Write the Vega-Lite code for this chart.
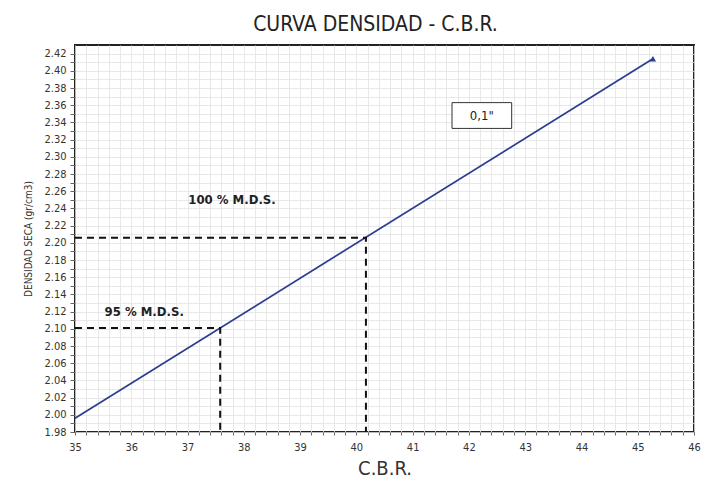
{
  "$schema": "https://vega.github.io/schema/vega-lite/v6.json",
  "autosize": "none",
  "width": 619,
  "height": 387,
  "padding": {"left": 75, "top": 45, "right": 13, "bottom": 55},
  "background": "white",
  "title": {"text": "CURVA DENSIDAD - C.B.R.", "fontSize": 21, "font": "Liberation Sans Narrow, DejaVu Sans Condensed, sans-serif", "fontWeight": "normal", "color": "#222", "offset": 10, "dx": -9},
  "config": {
    "view": {"stroke": "#222", "strokeWidth": 2},
    "font": "Liberation Sans Narrow, DejaVu Sans Condensed, sans-serif",
    "axis": {"gridColor": "#e2e2e2", "gridWidth": 0.8, "domain": false, "tickColor": "#666", "labelColor": "#333", "titleColor": "#333", "labelFontSize": 11, "labelFont": "Liberation Sans Narrow, DejaVu Sans Condensed, sans-serif", "titleFont": "Liberation Sans Narrow, DejaVu Sans Condensed, sans-serif", "titleFontWeight": "normal"}
  },
  "datasets": {
    "curve": [{"cbr": 35.0, "dens": 1.996}, {"cbr": 45.27, "dens": 2.414}],
    "endpt": [{"cbr": 45.27, "dens": 2.414}],
    "dashes": [
      {"g": "h100", "cbr": 35.0, "dens": 2.206},
      {"g": "h100", "cbr": 40.17, "dens": 2.206},
      {"g": "h100", "cbr": 40.17, "dens": 1.98},
      {"g": "h95", "cbr": 35.0, "dens": 2.101},
      {"g": "h95", "cbr": 37.58, "dens": 2.101},
      {"g": "h95", "cbr": 37.58, "dens": 1.98}
    ],
    "labels": [
      {"cbr": 37.79, "dens": 2.25, "txt": "100 % M.D.S."},
      {"cbr": 36.23, "dens": 2.12, "txt": "95 % M.D.S."}
    ],
    "box": [{"cbr": 41.7, "cbr2": 42.76, "dens": 2.333, "dens2": 2.363}],
    "boxtxt": [{"cbr": 42.23, "dens": 2.348, "txt": "0,1\""}]
  },
  "encoding": {
    "x": {"field": "cbr", "type": "quantitative", "scale": {"domain": [35, 46], "nice": false, "zero": false},
      "axis": {"title": "C.B.R.", "titleFontSize": 20, "titlePadding": 6,
        "values": [35,35.2,35.4,35.6,35.8,36,36.2,36.4,36.6,36.8,37,37.2,37.4,37.6,37.8,38,38.2,38.4,38.6,38.8,39,39.2,39.4,39.6,39.8,40,40.2,40.4,40.6,40.8,41,41.2,41.4,41.6,41.8,42,42.2,42.4,42.6,42.8,43,43.2,43.4,43.6,43.8,44,44.2,44.4,44.6,44.8,45,45.2,45.4,45.6,45.8,46],
        "labelExpr": "abs(datum.value - round(datum.value)) < 0.001 ? format(datum.value, 'd') : ''",
        "tickSize": 3, "labelPadding": 6, "labelFlush": false, "labelOverlap": false}},
    "y": {"field": "dens", "type": "quantitative", "scale": {"domain": [1.98, 2.43], "nice": false, "zero": false},
      "axis": {"title": "DENSIDAD SECA (gr/cm3)", "titleFontSize": 10, "titlePadding": 10,
        "values": [1.98,1.99,2.0,2.01,2.02,2.03,2.04,2.05,2.06,2.07,2.08,2.09,2.1,2.11,2.12,2.13,2.14,2.15,2.16,2.17,2.18,2.19,2.2,2.21,2.22,2.23,2.24,2.25,2.26,2.27,2.28,2.29,2.3,2.31,2.32,2.33,2.34,2.35,2.36,2.37,2.38,2.39,2.4,2.41,2.42],
        "labelExpr": "round(datum.value * 100) % 2 == 0 ? format(datum.value, '.2f') : ''",
        "tickSize": 5, "labelPadding": 4, "labelOverlap": false, "labelFlush": false}}
  },
  "layer": [
    {
      "data": {"name": "curve"},
      "mark": {"type": "line", "color": "#2b3d8f", "strokeWidth": 1.7}
    },
    {
      "data": {"name": "endpt"},
      "mark": {"type": "point", "shape": "triangle-up", "filled": true, "color": "#2b3d8f", "size": 40, "opacity": 1}
    },
    {
      "data": {"name": "dashes"},
      "mark": {"type": "line", "color": "#111", "strokeWidth": 2, "strokeDash": [7, 5]},
      "encoding": {"detail": {"field": "g"}, "order": {"field": "dens", "sort": "descending"}}
    },
    {
      "data": {"name": "labels"},
      "mark": {"type": "text", "fontWeight": "bold", "fontSize": 13, "color": "#222"},
      "encoding": {"text": {"field": "txt"}}
    },
    {
      "data": {"name": "box"},
      "mark": {"type": "rect", "fill": "white", "stroke": "#333", "strokeWidth": 1},
      "encoding": {"x2": {"field": "cbr2"}, "y2": {"field": "dens2"}}
    },
    {
      "data": {"name": "boxtxt"},
      "mark": {"type": "text", "fontSize": 13, "color": "#222"},
      "encoding": {"text": {"field": "txt"}}
    }
  ]
}
